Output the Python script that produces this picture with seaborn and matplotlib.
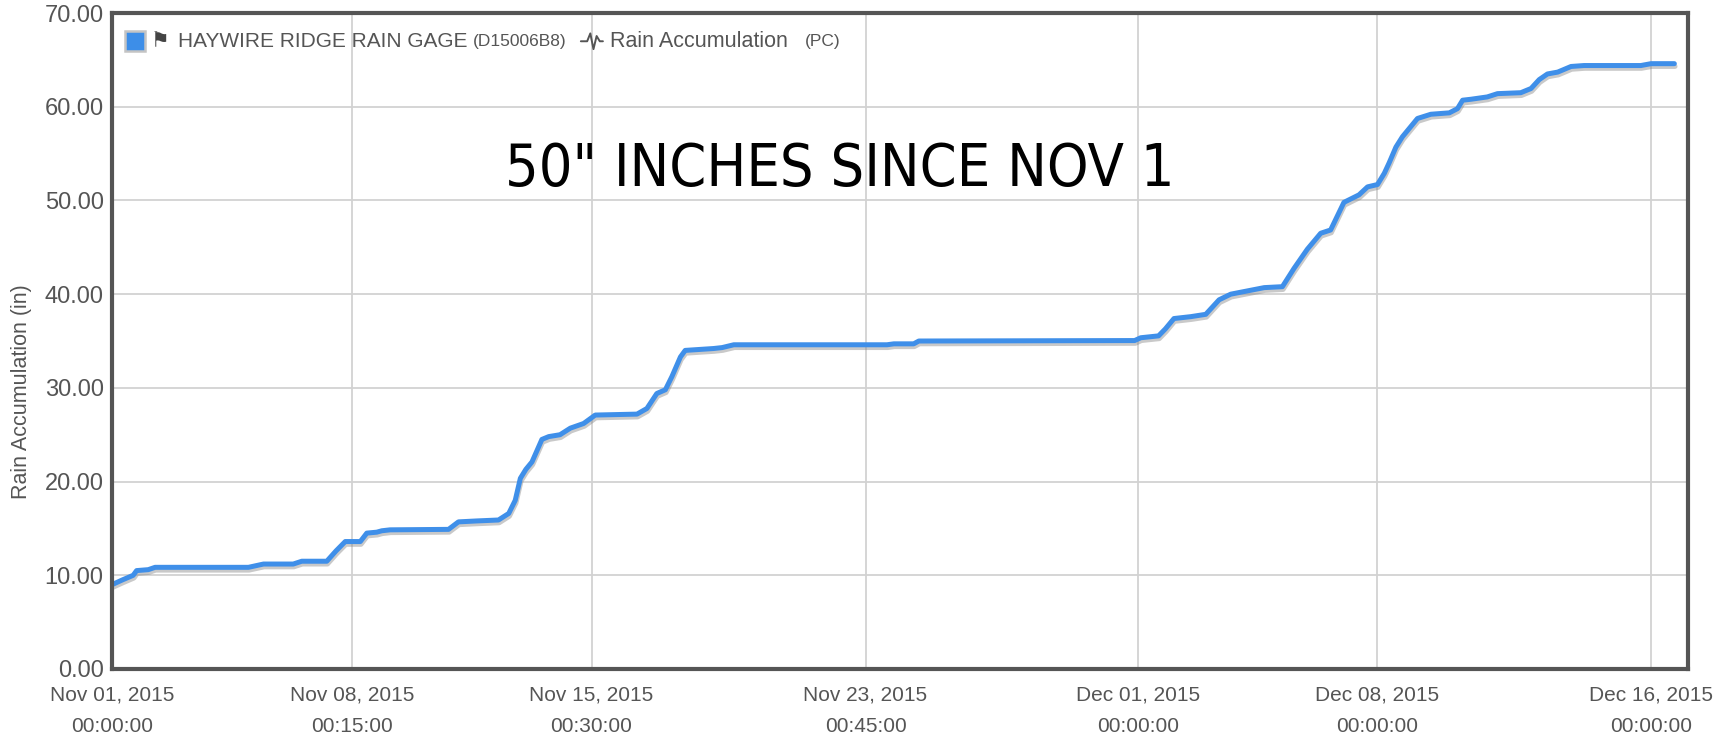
import matplotlib
matplotlib.use('Agg')
import matplotlib.pyplot as plt
import matplotlib.patheffects as pe
from matplotlib import font_manager
import seaborn as sns
import pandas as pd

# days since Nov 01 2015 00:00
days = [0.0, 0.3, 0.62, 0.72, 1.06, 1.26, 3.99, 4.43, 5.3, 5.55, 6.28, 6.55, 6.82,
        7.26, 7.45, 7.74, 7.89, 8.13, 9.84, 10.13, 10.67, 11.3, 11.6, 11.79, 11.94,
        12.1, 12.28, 12.57, 12.77, 13.1, 13.4, 13.79, 14.13, 15.35, 15.64, 15.93,
        16.18, 16.37, 16.62, 16.76, 17.59, 17.84, 18.18, 22.66, 22.86, 23.44, 23.59,
        29.9, 30.08, 30.6, 30.8, 31.05, 31.54, 31.98, 32.37, 32.71, 33.2, 33.69,
        34.22, 34.56, 34.95, 35.34, 35.63, 36.02, 36.46, 36.71, 37.0, 37.2, 37.34,
        37.54, 37.73, 38.17, 38.56, 39.1, 39.34, 39.49, 39.73, 40.21, 40.51, 41.19,
        41.49, 41.73, 41.97, 42.27, 42.66, 43.04, 44.7, 45.0, 45.68]
inches = [9.0, 9.5, 10.0, 10.5, 10.6, 10.85, 10.85, 11.2, 11.2, 11.5, 11.5, 12.6, 13.6,
          13.6, 14.5, 14.6, 14.75, 14.85, 14.9, 15.7, 15.8, 15.9, 16.6, 18.0, 20.35,
          21.3, 22.1, 24.5, 24.8, 25.0, 25.7, 26.2, 27.1, 27.2, 27.8, 29.4,
          29.8, 31.2, 33.3, 34.0, 34.2, 34.3, 34.6, 34.6, 34.7, 34.7, 35.0,
          35.05, 35.35, 35.55, 36.3, 37.4, 37.6, 37.85, 39.4, 40.0, 40.35, 40.7,
          40.8, 42.75, 44.8, 46.5, 46.85, 49.8, 50.6, 51.45, 51.7, 52.9, 54.0,
          55.7, 56.8, 58.75, 59.2, 59.35, 59.8, 60.7, 60.8, 61.05, 61.4, 61.5,
          61.95, 62.9, 63.5, 63.7, 64.3, 64.4, 64.4, 64.6, 64.6]

tick_times = ['2015-11-01 00:00', '2015-11-08 00:15', '2015-11-15 00:30',
              '2015-11-23 00:45', '2015-12-01 00:00', '2015-12-08 00:00',
              '2015-12-16 00:00']
tick_labels = ['Nov 01, 2015\n00:00:00', 'Nov 08, 2015\n00:15:00', 'Nov 15, 2015\n00:30:00',
               'Nov 23, 2015\n00:45:00', 'Dec 01, 2015\n00:00:00', 'Dec 08, 2015\n00:00:00',
               'Dec 16, 2015\n00:00:00']
y_ticks = [0, 10, 20, 30, 40, 50, 60, 70]

sns.set_theme(style='white')
plt.rcParams['font.family'] = ['Liberation Sans', 'DejaVu Sans']
gray = '#555555'

# a plain condensed face for the big note, if the system has one
cond = [f.fname for f in font_manager.fontManager.ttflist
        if f.fname.endswith('DejaVuSansCondensed.ttf')]
if cond:
    note_font = font_manager.FontProperties(fname=cond[0], size=42.5)
else:
    note_font = font_manager.FontProperties(family='DejaVu Sans', size=38)

start = pd.Timestamp('2015-11-01')
df = pd.DataFrame({'time': start + pd.to_timedelta(days, unit='D'), 'rain': inches})

fig = plt.figure(figsize=(17.23, 7.42), dpi=100)
ax = fig.add_axes([0.065, 0.0984, 0.9147, 0.884])

sns.lineplot(data=df, x='time', y='rain', ax=ax, color='#3f8fe9', lw=3.6,
             solid_joinstyle='round',
             path_effects=[pe.SimpleLineShadow(offset=(0.5, -2), shadow_color='#888', alpha=0.45),
                           pe.Normal()])

ax.set_xlim(start, start + pd.Timedelta(days=46.08))
ax.set_ylim(0, 70)
ax.set_xticks(pd.to_datetime(tick_times))
ax.set_xticklabels(tick_labels, fontsize=15, color=gray, linespacing=1.8)
ax.set_yticks(y_ticks)
ax.set_yticklabels(['%.2f' % v for v in y_ticks], fontsize=17, color=gray)
ax.tick_params(axis='x', length=0, pad=12)
ax.tick_params(axis='y', length=0, pad=6)
ax.set_xlabel('')
ax.set_ylabel('Rain Accumulation (in)', fontsize=15.5, color=gray)
ax.yaxis.set_label_coords(-0.0505, 0.423)

ax.grid(True, color='#d2d2d2', lw=1.3)
ax.set_axisbelow(True)
for s in ax.spines.values():
    s.set_color(gray)
    s.set_linewidth(3)

# legend row
ly = 0.957
ax.plot([0.0143], [ly], transform=ax.transAxes, marker='s', ms=15,
        mfc='#3d8ee8', mec='#c4c4c4', mew=1.8, clip_on=False)
ax.text(0.0245, ly, '\u2691', transform=ax.transAxes, fontsize=15, color='#444444',
        va='center', ha='left', family='DejaVu Sans')
ax.text(0.0419, ly, 'HAYWIRE RIDGE RAIN GAGE', transform=ax.transAxes, fontsize=15,
        color=gray, va='center')
ax.text(0.229, ly, '(D15006B8)', transform=ax.transAxes, fontsize=12.5,
        color=gray, va='center')
# little waveform icon
ax.plot([0.2975, 0.3015, 0.3035, 0.3055, 0.3075, 0.3095, 0.3115],
        [ly, ly, ly + 0.012, ly - 0.012, ly + 0.008, ly, ly],
        transform=ax.transAxes, color=gray, lw=1.4, clip_on=False)
ax.text(0.316, ly, 'Rain Accumulation', transform=ax.transAxes, fontsize=15.5,
        color=gray, va='center')
ax.text(0.4397, ly, '(PC)', transform=ax.transAxes, fontsize=12.5,
        color=gray, va='center')

ax.text(0.462, 0.762, '50" INCHES SINCE NOV 1', transform=ax.transAxes,
        fontproperties=note_font, color='black', ha='center', va='center')

fig.savefig('out.png', dpi=100)
